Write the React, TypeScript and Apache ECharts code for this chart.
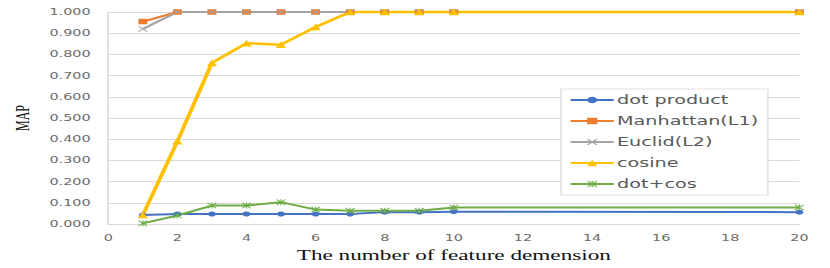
import React, { useEffect, useRef } from "react";
import * as echarts from "echarts";

const xValues = [1, 2, 3, 4, 5, 6, 7, 8, 9, 10, 20];
const seriesNames = ["dot product", "Manhattan(L1)", "Euclid(L2)", "cosine", "dot+cos"];
const dotProduct = [0.042, 0.047, 0.047, 0.047, 0.047, 0.047, 0.047, 0.056, 0.056, 0.058, 0.056];
const manhattan = [0.955, 1, 1, 1, 1, 1, 1, 1, 1, 1, 1];
const euclid = [0.92, 1, 1, 1, 1, 1, 1, 1, 1, 1, 1];
const cosine = [0.042, 0.39, 0.76, 0.853, 0.846, 0.929, 1, 1, 1, 1, 1];
const dotCos = [0.003, 0.04, 0.087, 0.087, 0.103, 0.068, 0.062, 0.062, 0.062, 0.078, 0.078];

const colors = ["#4472C4", "#ED7D31", "#A5A5A5", "#FFC000", "#70AD47"];

const S = 1.6;
const W = 830 / S;

const X_SYMBOL = "path://M0,1L1,0L5,4L9,0L10,1L6,5L10,9L9,10L5,6L1,10L0,9L4,5Z";
const STAR_SYMBOL =
  "path://M0,1L1,0L5,4L9,0L10,1L6,5L10,9L9,10L5,6L1,10L0,9L4,5Z M4.4,0L5.6,0L5.6,10L4.4,10Z";

function pairs(vals: number[]) {
  return xValues.map((x, i) => [x, vals[i]]);
}

export default function App() {
  const ref = useRef<HTMLDivElement>(null);
  useEffect(() => {
    if (!ref.current) return;
    const chart = echarts.init(ref.current, undefined, { renderer: "svg" });
    const data = [dotProduct, manhattan, euclid, cosine, dotCos];
    const symbols = ["circle", "rect", X_SYMBOL, "triangle", STAR_SYMBOL];
    const sizes = [5, 5.5, 6, 6.5, 6];
    chart.setOption({
      animation: false,
      color: colors,
      grid: { left: 102 / S, right: W - 799 / S, top: 12, bottom: 40, containLabel: false },
      legend: {
        data: seriesNames,
        orient: "vertical",
        left: 561 / S,
        top: 89,
        itemWidth: 27,
        itemHeight: 8,
        itemGap: 7,
        padding: [4, 6, 4, 5],
        borderColor: "#e3e3e3",
        borderWidth: 1,
        backgroundColor: "#ffffff",
        textStyle: {
          fontFamily: "DejaVu Sans",
          fontSize: 12,
          lineHeight: 14,
          color: "#595959",
          padding: [0, 0, 0, -3],
        },
      },
      xAxis: {
        type: "value",
        min: 0,
        max: 20,
        interval: 2,
        name: "The number of feature demension",
        nameLocation: "middle",
        nameGap: 24,
        nameTextStyle: { fontFamily: "Liberation Serif", fontSize: 14.5, color: "#111" },
        axisLine: { show: true, lineStyle: { color: "#d9d9d9", width: 1 } },
        axisTick: { show: false },
        splitLine: { show: false },
        axisLabel: { fontFamily: "DejaVu Sans", fontSize: 9, color: "#6b6b6b", margin: 9 },
      },
      yAxis: {
        type: "value",
        min: 0,
        max: 1,
        interval: 0.1,
        name: "MAP",
        nameLocation: "middle",
        nameGap: 44,
        nameTextStyle: { fontFamily: "Liberation Serif", fontSize: 12, color: "#111" },
        axisLine: { show: true, lineStyle: { color: "#d9d9d9", width: 1 } },
        axisTick: { show: false },
        splitLine: { show: true, lineStyle: { color: "#d9d9d9", width: 1 } },
        axisLabel: {
          fontFamily: "DejaVu Sans",
          fontSize: 9,
          color: "#6b6b6b",
          margin: 11,
          formatter: (v: number) => v.toFixed(3),
        },
      },
      series: seriesNames.map((name, i) => ({
        name,
        type: "line",
        data: pairs(data[i]),
        symbol: symbols[i],
        symbolSize: sizes[i],
        showSymbol: true,
        clip: false,
        lineStyle: { width: i === 3 ? 2.5 : 2, color: colors[i] },
        itemStyle: { color: colors[i] },
      })),
    });
    return () => chart.dispose();
  }, []);
  return (
    <div style={{ position: "absolute", left: 0, top: 0, width: 830, height: 268, overflow: "hidden", background: "#fff" }}>
      <div
        ref={ref}
        style={{ width: W, height: 268, transform: `scaleX(${S})`, transformOrigin: "0 0" }}
      />
    </div>
  );
}
